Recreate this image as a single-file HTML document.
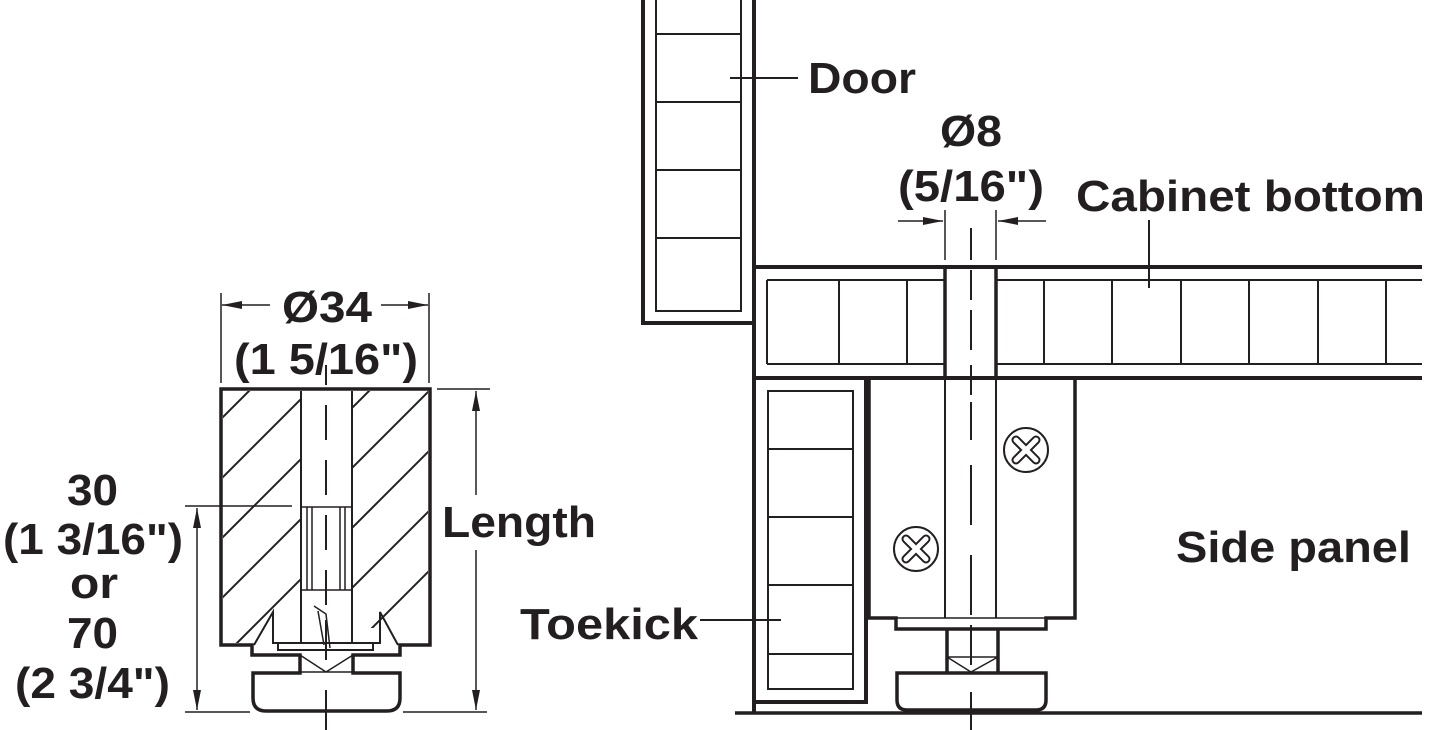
<!DOCTYPE html>
<html><head><meta charset="utf-8"><style>
html,body{margin:0;padding:0;background:#fff;width:1431px;height:730px;overflow:hidden}
svg{display:block}
text{font-family:"Liberation Sans",Arial,sans-serif;font-weight:bold;fill:#231f20}
</style></head><body>
<svg width="1431" height="730" viewBox="0 0 1431 730" xmlns="http://www.w3.org/2000/svg">
<defs>
<marker id="ar" viewBox="0 0 20 10" refX="20" refY="5" markerWidth="20" markerHeight="10" markerUnits="userSpaceOnUse" orient="auto">
<path d="M0,1 L20,5 L0,9 Z" fill="#231f20"/></marker>
<clipPath id="hl"><rect x="223" y="391" width="77" height="252"/></clipPath>
<clipPath id="hr"><rect x="353" y="391" width="75" height="252"/></clipPath>
</defs>
<g stroke="#231f20" fill="none">
<g clip-path="url(#hl)" stroke-width="2">
<path d="M160,480 L300,340 M160,540 L330,370 M160,600 L360,400 M160,660 L360,460 M160,720 L360,520 M160,780 L360,580"/>
</g>
<g clip-path="url(#hr)" stroke-width="2">
<path d="M300,460 L440,320 M300,520 L440,380 M300,580 L440,440 M300,640 L440,500 M300,700 L440,560"/>
</g>
<rect x="254" y="628" width="145" height="25" fill="#fff" stroke="none"/>
<path d="M221,389 H430 V645 H400 V655 H353 V673 H400 V698 Q400,711 387,711 H266 Q253,711 253,698 V673 H300 V655 H252 V645 H221 Z" stroke-width="3.5"/>
<path d="M301,391 V643 M352,391 V643" stroke-width="2"/>
<path d="M307,507 V590 M312,507 V590 M340,507 V590 M345,507 V590 M301,507 H352 M301,590 H352" stroke-width="1.5"/>
<path d="M254,645 L273,612 V643 H380 V612 L398,645 M278,643 V650 H373 V643" stroke-width="2"/>
<path d="M300,655 L326,672 L353,655 M300,672 H353" stroke-width="1.5"/>
<path d="M314,606 L326,614 L330,648 M318,611 L324,645" stroke-width="1.5"/>
<path d="M326,365 V385 M326,405 V440 M326,460 V495 M326,515 V550 M326,570 V605 M326,620 V660 M326,690 V730" stroke-width="2"/>
<path d="M221,293 V383 M429,293 V383" stroke-width="1.5"/>
<path d="M270,305 H222" stroke-width="1.5" marker-end="url(#ar)"/>
<path d="M381,305 H428" stroke-width="1.5" marker-end="url(#ar)"/>
<path d="M437,389 H490 M403,712 H487" stroke-width="1.5"/>
<path d="M476,495 V391" stroke-width="1.5" marker-end="url(#ar)"/>
<path d="M476,550 V710" stroke-width="1.5" marker-end="url(#ar)"/>
<path d="M185,506 H292 M185,712 H250" stroke-width="1.5"/>
<path d="M197,610 V508" stroke-width="1.5" marker-end="url(#ar)"/>
<path d="M197,610 V710" stroke-width="1.5" marker-end="url(#ar)"/>

<path d="M643,0 V323 H754 V0" stroke-width="4"/>
<path d="M656,0 V311 H741 V0" stroke-width="2"/>
<path d="M656,34 H741 M656,102 H741 M656,170 H741 M656,238 H741" stroke-width="2"/>
<path d="M730,78 H798" stroke-width="2"/>
<path d="M754,323 V712" stroke-width="4"/>
<path d="M754,267 H1422 M754,378 H1422" stroke-width="4"/>
<path d="M767,280 H945 M767,364 H945 M767,280 V364 M996,280 H1422 M996,364 H1422" stroke-width="2"/>
<path d="M839,280 V364 M907,280 V364 M1044,280 V364 M1112,280 V364 M1181,280 V364 M1249,280 V364 M1318,280 V364 M1386,280 V364" stroke-width="2"/>
<path d="M945,267 V378 M996,267 V378" stroke-width="3.5"/>
<path d="M1149,220 V288" stroke-width="2"/>
<path d="M945,210 V260 M996,210 V260" stroke-width="1.5"/>
<path d="M898,221 H943" stroke-width="1.5" marker-end="url(#ar)"/>
<path d="M1046,221 H998" stroke-width="1.5" marker-end="url(#ar)"/>
<path d="M754,702 H866 V378" stroke-width="4"/>
<path d="M768,391 H853 V689 H768 Z" stroke-width="2"/>
<path d="M768,449 H853 M768,517 H853 M768,585 H853 M768,654 H853" stroke-width="2"/>
<path d="M700,620 H781" stroke-width="2"/>
<path d="M869,378 V618 H896 V629 H1046 V618 H1075 V378" stroke-width="3.5"/>
<path d="M896,618 H1046" stroke-width="1.5"/>
<path d="M945,378 V618 M996,378 V618" stroke-width="2"/>
<circle cx="1026" cy="450" r="22" stroke-width="2"/>
<circle cx="916" cy="549" r="22" stroke-width="2"/>
<path d="M1016,440 L1036,460 M1036,440 L1016,460" stroke-width="9" stroke-linecap="round"/>
<path d="M1016,440 L1036,460 M1036,440 L1016,460" stroke-width="5" stroke="#fff" stroke-linecap="round"/>
<path d="M906,539 L926,559 M926,539 L906,559" stroke-width="9" stroke-linecap="round"/>
<path d="M906,539 L926,559 M926,539 L906,559" stroke-width="5" stroke="#fff" stroke-linecap="round"/>
<path d="M947,629 V673 M998,629 V673" stroke-width="3.5"/>
<path d="M947,657 H998 M947,657 L971,672 L998,657" stroke-width="1.5"/>
<path d="M897,673 H1046 V700 Q1046,710 1036,710 H907 Q897,710 897,700 Z" stroke-width="3.5"/>
<path d="M735,713 H1422" stroke-width="3.5"/>
<path d="M971,228 V260 M971,270 V300 M971,310 V350 M971,365 V395 M971,402 V440 M971,465 V525 M971,555 V615 M971,625 V665 M971,692 V730" stroke-width="2"/>
</g>
<g font-size="44" lengthAdjust="spacingAndGlyphs">
<text x="808" y="93" textLength="108" lengthAdjust="spacingAndGlyphs">Door</text>
<text x="940" y="146" textLength="62" lengthAdjust="spacingAndGlyphs">Ø8</text>
<text x="898" y="201" textLength="146" lengthAdjust="spacingAndGlyphs">(5/16")</text>
<text x="1076" y="211" textLength="349" lengthAdjust="spacingAndGlyphs">Cabinet bottom</text>
<text x="1176" y="562" textLength="235" lengthAdjust="spacingAndGlyphs">Side panel</text>
<text x="520" y="639" textLength="178" lengthAdjust="spacingAndGlyphs">Toekick</text>
<text x="282" y="322" textLength="90" lengthAdjust="spacingAndGlyphs">Ø34</text>
<text x="234" y="374" textLength="184" lengthAdjust="spacingAndGlyphs">(1 5/16")</text>
<text x="442" y="537" textLength="154" lengthAdjust="spacingAndGlyphs">Length</text>
<text x="67" y="505" textLength="51" lengthAdjust="spacingAndGlyphs">30</text>
<text x="3" y="554" textLength="180" lengthAdjust="spacingAndGlyphs">(1 3/16")</text>
<text x="70" y="598" textLength="48" lengthAdjust="spacingAndGlyphs">or</text>
<text x="67" y="648" textLength="51" lengthAdjust="spacingAndGlyphs">70</text>
<text x="15" y="698" textLength="155" lengthAdjust="spacingAndGlyphs">(2 3/4")</text>
</g>
</svg>
</body></html>
